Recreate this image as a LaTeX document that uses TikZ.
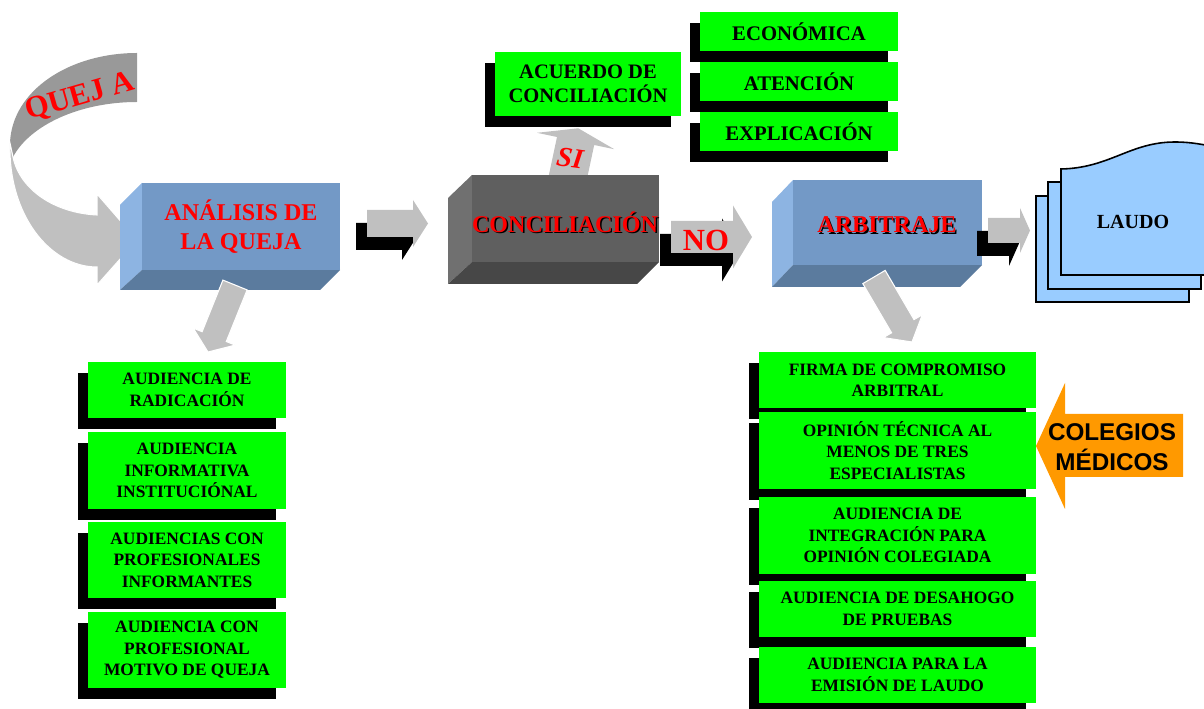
\documentclass[tikz,border=0pt]{standalone}
\usepackage{fontspec}
\setmainfont{Liberation Serif}
\newfontfamily\arialfont{Liberation Sans}
\usetikzlibrary{shadows}
\definecolor{gboxfill}{HTML}{00FF00}
\definecolor{arrowgray}{HTML}{C0C0C0}
\definecolor{darkband}{HTML}{999999}
\definecolor{bluefront}{HTML}{7399C6}
\definecolor{blueleft}{HTML}{8DB4E2}
\definecolor{bluebottom}{HTML}{5B7B9E}
\definecolor{grayfront}{HTML}{5F5F5F}
\definecolor{grayleft}{HTML}{707070}
\definecolor{graybottom}{HTML}{474747}
\definecolor{laudofill}{HTML}{99CCFF}
\definecolor{orangefill}{HTML}{FF9900}
\definecolor{textred}{HTML}{FF0000}
\newcommand\myblockarrow[6]{%
  \fill[black,shift={(-11,13)}] (#1,#4-#5) -- (#2,#4-#5) -- (#2,#4-#6) -- (#3,#4) -- (#2,#4+#6) -- (#2,#4+#5) -- (#1,#4+#5) -- cycle;
  \fill[arrowgray] (#1,#4-#5) -- (#2,#4-#5) -- (#2,#4-#6) -- (#3,#4) -- (#2,#4+#6) -- (#2,#4+#5) -- (#1,#4+#5) -- cycle;}
\tikzset{
  gbox/.style={fill=gboxfill, inner sep=0pt, align=center,
    general shadow={fill=black, shadow xshift=-0.2cm, shadow yshift=-0.22cm}},
  colbox/.style={gbox, font=\bfseries\fontsize{9.9}{12.2}\selectfont},
  leftbox/.style={colbox, minimum width=3.96cm},
  rightbox/.style={colbox, minimum width=5.54cm},
  topbox/.style={gbox, minimum width=3.96cm, minimum height=0.78cm, font=\bfseries\fontsize{11.8}{14}\selectfont},
  titletext/.style={align=center, text=textred, font=\bfseries\fontsize{13.7}{16.5}\selectfont},
  shadowtext/.style={align=center, text=black, font=\bfseries\fontsize{13.7}{16.5}\selectfont},
  quejatext/.style={text=textred, font=\bfseries\fontsize{17.5}{17.5}\selectfont, inner sep=0pt},
  downarrow/.style={fill=arrowgray, draw=white, line width=0.6pt},
}
\begin{document}
\begin{tikzpicture}[x=0.02cm, y=-0.02cm]
\useasboundingbox (0,0) rectangle (1204,709);

% QUEJA curved arrow
\fill[darkband] (137,53) .. controls (70,53) and (12,90) .. (10,143) -- (13,157) .. controls (30,125) and (80,102) .. (137,102) -- cycle;
\filldraw[fill=arrowgray, draw=white, line width=0.6pt] (10,143) .. controls (8,215) and (50,267) .. (97,267) -- (97,285) -- (137,240) -- (97,194) -- (97,215) .. controls (55,213) and (20,190) .. (13,157) -- cycle;
\node[quejatext, rotate=16] (queja) at (80,97) {QUEJ A};

% ANALISIS box
\fill[blueleft] (120,205) -- (142,183) -- (142,270) -- (120,290) -- cycle;
\fill[bluebottom] (142,270) -- (340,270) -- (320,290) -- (120,290) -- cycle;
\fill[bluefront] (142,183) rectangle (340,270);
\node[titletext] (analisis) at (241,227) {ANÁLISIS DE\\LA QUEJA};

% SI arrow (behind conciliacion box)
\fill[arrowgray] (547.4,182) -- (557.0,137) -- (537.0,132.8) -- (578.3,128.3) -- (614.2,149.2) -- (594.2,145) -- (584.6,190) -- cycle;
\node[text=textred, font=\bfseries\itshape\fontsize{16}{16}\selectfont, rotate=-8] (si) at (570,158) {SI};

% CONCILIACION box
\fill[grayleft] (448,198) -- (472,175) -- (472,262) -- (448,284) -- cycle;
\fill[graybottom] (472,262) -- (659,262) -- (637,284) -- (448,284) -- cycle;
\fill[grayfront] (472,175) rectangle (659,262);
\node[shadowtext] at (566.5,223.5) {CONCILIACIÓN};
\node[titletext] (concil) at (565,222) {CONCILIACIÓN};

% ARBITRAJE box
\fill[blueleft] (772,202) -- (793,180) -- (793,265) -- (772,287) -- cycle;
\fill[bluebottom] (793,265) -- (982,265) -- (960,287) -- (772,287) -- cycle;
\fill[bluefront] (793,180) rectangle (982,265);
\node[shadowtext] at (888.5,226.5) {ARBITRAJE};
\node[titletext] (arbitraje) at (887,225) {ARBITRAJE};

% horizontal block arrows
\myblockarrow{367}{413}{428}{223.5}{13.5}{23.5}
\myblockarrow{671}{733}{752}{237}{16}{31.5}
\node[text=textred, font=\bfseries\fontsize{17.5}{17.5}\selectfont] (no) at (706,240) {NO};
\myblockarrow{988}{1020}{1030}{230.5}{12.5}{22.5}

% LAUDO pages
\begin{scope}
\clip (0,0) rectangle (1204,709);
\filldraw[fill=laudofill, draw=black, line width=0.9pt] (1036,196) rectangle (1189,302);
\filldraw[fill=laudofill, draw=black, line width=0.9pt] (1048,182) rectangle (1201,289);
\filldraw[fill=laudofill, draw=black, line width=0.9pt] (1061,169) .. controls (1110,168) and (1130,142) .. (1175,142) .. controls (1192,142) and (1205,145) .. (1215,147) -- (1215,275) -- (1061,275) -- cycle;
\end{scope}
\node[font=\bfseries\fontsize{11.4}{13}\selectfont] (laudo) at (1133,222) {LAUDO};

% down arrows
\filldraw[downarrow] (222.9,280.1) -- (247.1,289.9) -- (226.3,341.5) -- (235.2,345.1) -- (208,352) -- (193.2,328.1) -- (202.1,331.7) -- cycle;
\filldraw[downarrow] (862.8,283.6) -- (885.2,270.4) -- (914.0,319.6) -- (922.3,314.8) -- (912,342) -- (883.3,337.6) -- (891.6,332.8) -- cycle;

% ACUERDO and top boxes
\node[gbox, minimum width=3.72cm, minimum height=1.28cm, font=\bfseries\fontsize{11.7}{14}\selectfont] (acuerdo) at (588,84) {ACUERDO DE\\CONCILIACIÓN};
\node[topbox] (economica) at (799,31.5) {ECONÓMICA};
\node[topbox] (atencion) at (799,81.5) {ATENCIÓN};
\node[topbox] (explicacion) at (799,131.5) {EXPLICACIÓN};

% left column
\node[leftbox, minimum height=1.12cm] (l1) at (187,390) {AUDIENCIA DE\\RADICACIÓN};
\node[leftbox, minimum height=1.54cm] (l2) at (187,470.5) {AUDIENCIA\\INFORMATIVA\\INSTITUCIÓNAL};
\node[leftbox, minimum height=1.52cm] (l3) at (187,560) {AUDIENCIAS CON\\PROFESIONALES\\INFORMANTES};
\node[leftbox, minimum height=1.52cm] (l4) at (187,650) {AUDIENCIA CON\\PROFESIONAL\\MOTIVO DE QUEJA};

% right column
\node[rightbox, minimum height=1.12cm] (r1) at (897.5,380) {FIRMA DE COMPROMISO\\ARBITRAL};
\node[rightbox, minimum height=1.54cm] (r2) at (897.5,450.5) {OPINIÓN TÉCNICA AL\\MENOS DE TRES\\ESPECIALISTAS};
\node[rightbox, minimum height=1.54cm] (r3) at (897.5,535.5) {AUDIENCIA DE\\INTEGRACIÓN PARA\\OPINIÓN COLEGIADA};
\node[rightbox, minimum height=1.12cm] (r4) at (897.5,609) {AUDIENCIA DE DESAHOGO\\DE PRUEBAS};
\node[rightbox, minimum height=1.12cm] (r5) at (897.5,675) {AUDIENCIA PARA LA\\EMISIÓN DE LAUDO};

% COLEGIOS MEDICOS arrow
\fill[orangefill] (1036,446) -- (1065,383) -- (1065,414) -- (1183,414) -- (1183,477) -- (1065,477) -- (1065,509) -- cycle;
\node[align=center, font=\arialfont\bfseries\fontsize{13.8}{17}\selectfont] (colegios) at (1112,447) {COLEGIOS\\MÉDICOS};
\end{tikzpicture}
\end{document}
